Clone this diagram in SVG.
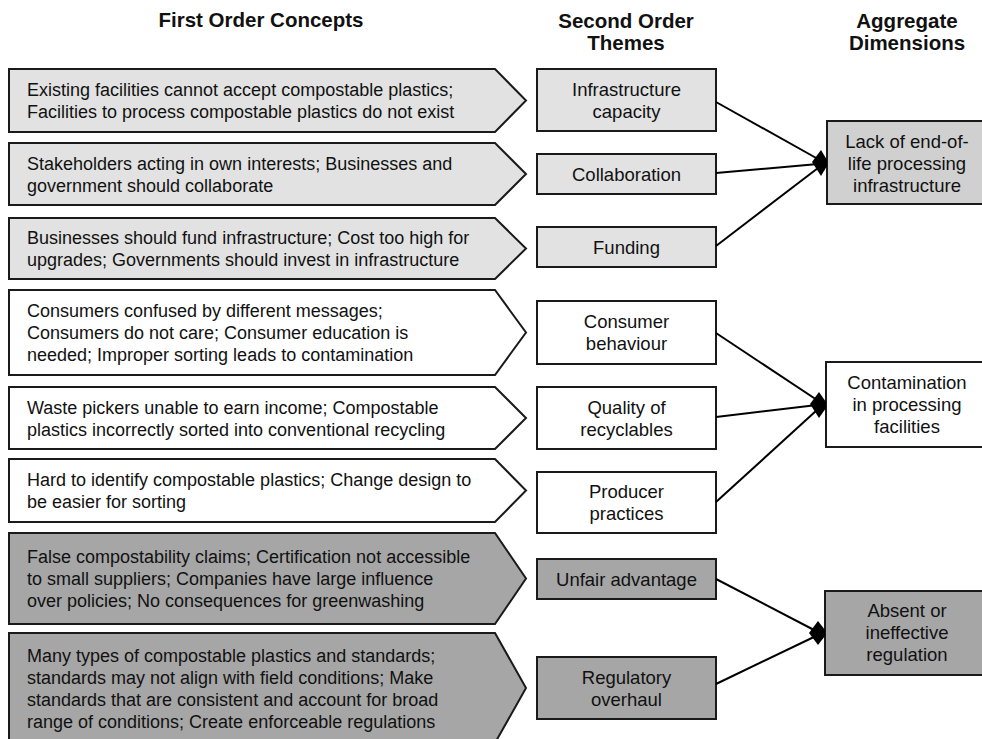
<svg xmlns="http://www.w3.org/2000/svg" width="982" height="739" viewBox="0 0 982 739">
<defs>
<style>
text{font-family:"Liberation Sans",Arial,Helvetica,sans-serif;fill:#111;}
.h{font-size:20.5px;font-weight:bold;text-anchor:middle;}
.t{font-size:18px;}
.c{font-size:18.5px;text-anchor:middle;}
.s{stroke:#1a1a1a;stroke-width:2;}
.lt{fill:#e2e2e2;}
.md{fill:#d0d0d0;}
.wh{fill:#ffffff;}
.dk{fill:#a6a6a6;}
.ln{stroke:#000;stroke-width:2;fill:none;}
.dm{fill:#000;}
</style>
</defs>
<rect width="982" height="739" fill="#fff"/>

<g id="headings">
<text class="h" x="261" y="27">First Order Concepts</text>
<text class="h" x="626" y="28">Second Order</text>
<text class="h" x="626" y="50">Themes</text>
<text class="h" x="907" y="28">Aggregate</text>
<text class="h" x="907" y="50">Dimensions</text>
</g>

<g id="c1">
<polygon class="s lt" points="9,69 495,69 526,100.5 495,132 9,132"/>
<text class="t" x="27" y="96">Existing facilities cannot accept compostable plastics;</text>
<text class="t" x="27" y="118">Facilities to process compostable plastics do not exist</text>
</g>
<g id="c2">
<polygon class="s lt" points="9,143 495,143 526,174 495,205 9,205"/>
<text class="t" x="27" y="169.5">Stakeholders acting in own interests; Businesses and</text>
<text class="t" x="27" y="191.5">government should collaborate</text>
</g>
<g id="c3">
<polygon class="s lt" points="9,218 495,218 526,248.5 495,279 9,279"/>
<text class="t" x="27" y="244">Businesses should fund infrastructure; Cost too high for</text>
<text class="t" x="27" y="266">upgrades; Governments should invest in infrastructure</text>
</g>
<g id="c4">
<polygon class="s wh" points="9,290 495,290 526,332.5 495,375 9,375"/>
<text class="t" x="27" y="317">Consumers confused by different messages;</text>
<text class="t" x="27" y="339">Consumers do not care; Consumer education is</text>
<text class="t" x="27" y="361">needed; Improper sorting leads to contamination</text>
</g>
<g id="c5">
<polygon class="s wh" points="9,387 495,387 526,418 495,449 9,449"/>
<text class="t" x="27" y="413.5">Waste pickers unable to earn income; Compostable</text>
<text class="t" x="27" y="435.5">plastics incorrectly sorted into conventional recycling</text>
</g>
<g id="c6">
<polygon class="s wh" points="9,459 495,459 526,490.5 495,522 9,522"/>
<text class="t" x="27" y="486">Hard to identify compostable plastics; Change design to</text>
<text class="t" x="27" y="508">be easier for sorting</text>
</g>
<g id="c7">
<polygon class="s dk" points="9,533 495,533 526,578.5 495,624 9,624"/>
<text class="t" x="27" y="563">False compostability claims; Certification not accessible</text>
<text class="t" x="27" y="585">to small suppliers; Companies have large influence</text>
<text class="t" x="27" y="607">over policies; No consequences for greenwashing</text>
</g>
<g id="c8">
<polygon class="s dk" points="9,633 495,633 526,688 495,743 9,743"/>
<text class="t" x="27" y="661.5">Many types of compostable plastics and standards;</text>
<text class="t" x="27" y="683.5">standards may not align with field conditions; Make</text>
<text class="t" x="27" y="705.5">standards that are consistent and account for broad</text>
<text class="t" x="27" y="727.5">range of conditions; Create enforceable regulations</text>
</g>

<g id="t1">
<rect class="s lt" x="537" y="69" width="179" height="62"/>
<text class="c" x="626.5" y="95.5">Infrastructure</text>
<text class="c" x="626.5" y="117.5">capacity</text>
</g>
<g id="t2">
<rect class="s lt" x="537" y="154" width="179" height="40"/>
<text class="c" x="626.5" y="180.5">Collaboration</text>
</g>
<g id="t3">
<rect class="s lt" x="537" y="227" width="179" height="40"/>
<text class="c" x="626.5" y="253.5">Funding</text>
</g>
<g id="t4">
<rect class="s wh" x="537" y="301" width="179" height="63"/>
<text class="c" x="626.5" y="328">Consumer</text>
<text class="c" x="626.5" y="350">behaviour</text>
</g>
<g id="t5">
<rect class="s wh" x="537" y="387" width="179" height="62"/>
<text class="c" x="626.5" y="413.5">Quality of</text>
<text class="c" x="626.5" y="435.5">recyclables</text>
</g>
<g id="t6">
<rect class="s wh" x="537" y="472" width="179" height="61"/>
<text class="c" x="626.5" y="498">Producer</text>
<text class="c" x="626.5" y="520">practices</text>
</g>
<g id="t7">
<rect class="s dk" x="537" y="559" width="179" height="40"/>
<text class="c" x="626.5" y="585.5">Unfair advantage</text>
</g>
<g id="t8">
<rect class="s dk" x="537" y="657" width="179" height="62"/>
<text class="c" x="626.5" y="683.5">Regulatory</text>
<text class="c" x="626.5" y="705.5">overhaul</text>
</g>

<g id="a1">
<rect class="s md" x="827" y="121" width="170" height="83"/>
<text class="c" x="907" y="148">Lack of end-of-</text>
<text class="c" x="907" y="170">life processing</text>
<text class="c" x="907" y="192">infrastructure</text>
</g>
<g id="a2">
<rect class="s wh" x="826" y="362" width="170" height="85"/>
<text class="c" x="907" y="389">Contamination</text>
<text class="c" x="907" y="411">in processing</text>
<text class="c" x="907" y="433">facilities</text>
</g>
<g id="a3">
<rect class="s dk" x="825" y="591" width="170" height="84"/>
<text class="c" x="907" y="617">Absent or</text>
<text class="c" x="907" y="639">ineffective</text>
<text class="c" x="907" y="661">regulation</text>
</g>

<g id="connectors">
<line class="ln" x1="716" y1="102" x2="818" y2="159"/>
<line class="ln" x1="716" y1="173" x2="818" y2="164"/>
<line class="ln" x1="716" y1="246" x2="818" y2="168"/>
<polygon class="dm" points="812,162 821,150 827,160 827,166 821,176"/>
<line class="ln" x1="716" y1="333" x2="817" y2="400"/>
<line class="ln" x1="716" y1="417" x2="817" y2="405"/>
<line class="ln" x1="716" y1="502" x2="817" y2="410"/>
<polygon class="dm" points="810,404 819,392 826,402 826,408 819,418"/>
<line class="ln" x1="716" y1="579" x2="816" y2="631"/>
<line class="ln" x1="716" y1="684" x2="816" y2="636"/>
<polygon class="dm" points="809,633 818,621 825,630 825,636 818,645"/>
</g>
</svg>
